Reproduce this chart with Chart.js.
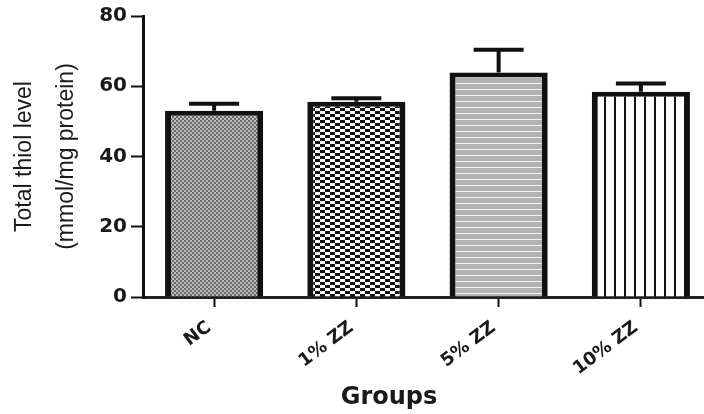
<!DOCTYPE html>
<html>
<head>
<meta charset="utf-8">
<script src="https://cdn.jsdelivr.net/npm/chart.js@4.4.1/dist/chart.umd.min.js"></script>
<style>
  html, body { margin: 0; padding: 0; background: #fff; overflow: hidden; }
  #wrap { width: 712px; height: 414px; }
</style>
</head>
<body>
<div id="wrap"><canvas id="myChart" width="712" height="414"></canvas></div>
<script>
const grupos = ['NC', '1% ZZ', '5% ZZ', '10% ZZ'];
const medias = [53.0, 55.6, 63.9, 58.4];
const errores = [2.0, 1.0, 6.5, 2.4];
const yTicks = [0, 20, 40, 60, 80];

// little tiles used as bar fills
function patron(w, h, dibujar) {
  const c = document.createElement('canvas');
  c.width = w; c.height = h;
  const g = c.getContext('2d');
  dibujar(g);
  return g.createPattern(c, 'repeat');
}

const rellenoNC = patron(4, 4, g => {
  g.fillStyle = '#bdbdbd'; g.fillRect(0, 0, 4, 4);
  g.fillStyle = '#6a6a6a'; g.fillRect(0, 0, 2, 2); g.fillRect(2, 2, 2, 2);
});
const rellenoZZ1 = patron(10, 6, g => {
  g.fillStyle = '#fff'; g.fillRect(0, 0, 10, 6);
  g.fillStyle = '#111'; g.fillRect(0, 0, 5, 3); g.fillRect(5, 3, 5, 3);
});
const rellenoZZ5 = patron(4, 6, g => {
  g.fillStyle = '#b2b2b2'; g.fillRect(0, 0, 4, 6);
  g.fillStyle = '#f2f2f2'; g.fillRect(0, 5, 4, 1);
});
const rellenoZZ10 = patron(10, 4, g => {
  g.fillStyle = '#fff'; g.fillRect(0, 0, 10, 4);
  g.fillStyle = '#111'; g.fillRect(4, 0, 2, 4);
});

const barrasError = {
  id: 'barrasError',
  afterDatasetsDraw(chart) {
    const c = chart.ctx;
    const y = chart.scales.y;
    const meta = chart.getDatasetMeta(0);
    c.save();
    c.strokeStyle = '#111';
    c.lineWidth = 4;
    meta.data.forEach((bar, i) => {
      const top = y.getPixelForValue(medias[i] + errores[i]);
      c.beginPath();
      c.moveTo(bar.x, bar.y);
      c.lineTo(bar.x, top);
      c.moveTo(bar.x - 25, top);
      c.lineTo(bar.x + 25, top);
      c.stroke();
    });
    c.restore();
  }
};

const tituloX = {
  id: 'tituloX',
  afterDraw(chart) {
    const c = chart.ctx;
    c.save();
    c.fillStyle = '#1a1a1a';
    c.font = 'bold 24px "DejaVu Sans"';
    c.textAlign = 'center';
    c.textBaseline = 'middle';
    c.fillText('Groups', 389, 398);
    c.restore();
  }
};

const ctx = document.getElementById('myChart');
const myChart = new Chart(ctx, {
  type: 'bar',
  data: {
    labels: grupos,
    datasets: [{
      label: 'Total thiol level',
      data: medias,
      backgroundColor: [rellenoNC, rellenoZZ1, rellenoZZ5, rellenoZZ10],
      borderColor: '#111',
      borderWidth: { left: 6, right: 6, top: 5, bottom: 0 },
      borderSkipped: 'bottom',
      barPercentage: 0.69,
      categoryPercentage: 1
    }]
  },
  plugins: [barrasError, tituloX],
  options: {
    responsive: false,
    animation: false,
    devicePixelRatio: 1,
    plugins: {
      legend: { display: false },
      tooltip: { enabled: false }
    },
    layout: {
      padding: { top: 15, left: 0, right: 0, bottom: 0 }
    },
    scales: {
      x: {
        grid: { display: true, drawOnChartArea: false, offset: false, color: '#111', tickLength: 10, tickWidth: 2 },
        border: { display: true, color: '#222', width: 3 },
        ticks: {
          color: '#1a1a1a',
          font: { family: 'DejaVu Sans', size: 18, weight: 'bold' },
          minRotation: 37,
          maxRotation: 37,
          autoSkip: false,
          padding: 10,
          labelOffset: -5
        },
        afterFit(scale) { scale.height = 117; }
      },
      y: {
        min: 0,
        max: 80,
        afterBuildTicks(scale) { scale.ticks = yTicks.map(v => ({ value: v })); },
        grid: { display: true, drawOnChartArea: false, color: '#111', tickLength: 12, tickWidth: 2 },
        border: { display: true, color: '#111', width: 3 },
        ticks: {
          color: '#1a1a1a',
          font: { family: 'DejaVu Sans', size: 20, weight: 'bold' },
          padding: 4
        },
        title: {
          display: true,
          text: ['Total thiol level', '(mmol/mg protein)'],
          color: '#1a1a1a',
          font: { family: 'Liberation Sans', size: 23, lineHeight: 1.83 },
          padding: { top: 4, bottom: 0 }
        },
        afterFit(scale) { scale.width = 143; }
      }
    }
  }
});
</script>
</body>
</html>
